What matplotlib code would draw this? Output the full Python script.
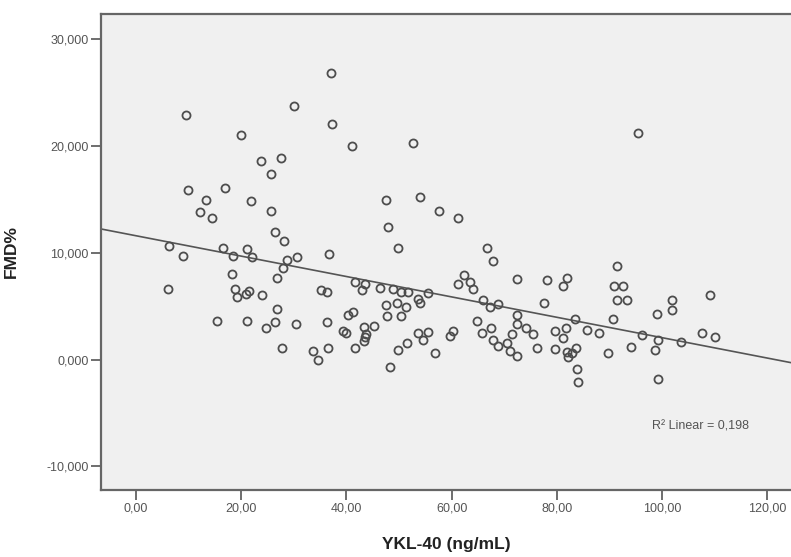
import matplotlib
matplotlib.use('Agg')
import matplotlib.pyplot as plt

# YKL-40 (ng/mL) vs FMD%
ykl40 = [6.3, 8.9, 9.5, 9.9, 13.3, 12.2, 14.5, 16.9, 16.5, 18.4,
         20.0, 21.1, 21.9, 22.1, 23.8, 18.3, 6.1, 18.8, 19.2, 20.9,
         21.5, 24.0, 15.4, 21.1, 24.7, 25.7, 27.6, 25.7, 26.4, 28.1,
         28.7, 30.6, 28.0, 26.8, 30.0, 37.1, 37.3, 41.1, 36.7, 26.8,
         26.4, 30.4, 35.2, 36.3, 36.3, 27.8, 33.7, 34.6, 36.5, 41.6,
         43.5, 43.0, 46.4, 48.9, 50.4, 51.7, 53.6, 54.0, 55.5, 40.3,
         41.3, 39.4, 39.9, 43.3, 45.3, 43.7, 43.5, 43.3, 41.6, 47.5,
         49.6, 51.3, 47.7, 50.4, 48.3, 49.8, 51.5, 53.6, 55.5, 54.6,
         56.8, 47.5, 47.9, 49.8, 52.7, 54.0, 57.6, 61.2, 66.7, 67.9,
         62.4, 72.4, 78.1, 81.9, 81.2, 61.2, 63.5, 64.1, 77.6, 66.0,
         67.3, 68.8, 72.4, 72.4, 64.8, 65.8, 67.5, 60.3, 59.7, 71.5,
         74.1, 75.5, 67.9, 68.8, 70.5, 71.1, 72.4, 76.2, 79.7, 81.7,
         81.2, 79.7, 81.9, 82.9, 83.7, 82.1, 83.5, 85.7, 88.0, 83.8,
         84.0, 89.7, 91.4, 90.9, 92.6, 91.4, 93.4, 90.7, 101.9, 101.9,
         99.1, 109.1, 96.2, 94.1, 99.2, 98.7, 103.6, 107.6, 110.1, 99.2,
         95.4]
fmd = [10.6, 9.7, 22.9, 15.8, 14.9, 13.8, 13.2, 16.0, 10.4, 9.7,
       21.0, 10.3, 14.8, 9.6, 18.6, 8.0, 6.6, 6.6, 5.8, 6.1,
       6.4, 6.0, 3.6, 3.6, 2.9, 17.3, 18.8, 13.9, 11.9, 11.1,
       9.3, 9.6, 8.6, 7.6, 23.7, 26.8, 22.0, 20.0, 9.9, 4.7,
       3.5, 3.3, 6.5, 6.3, 3.5, 1.1, 0.8, 0.0, 1.1, 7.2,
       7.1, 6.5, 6.7, 6.6, 6.3, 6.3, 5.7, 5.3, 6.2, 4.2,
       4.4, 2.7, 2.5, 3.0, 3.1, 2.4, 2.1, 1.7, 1.1, 5.1,
       5.3, 4.9, 4.1, 4.1, -0.7, 0.9, 1.5, 2.5, 2.6, 1.8,
       0.6, 14.9, 12.4, 10.4, 20.2, 15.2, 13.9, 13.2, 10.4, 9.2,
       7.9, 7.5, 7.4, 7.6, 6.9, 7.1, 7.2, 6.6, 5.3, 5.6,
       4.9, 5.2, 4.2, 3.3, 3.6, 2.5, 2.9, 2.7, 2.2, 2.4,
       2.9, 2.4, 1.8, 1.3, 1.5, 0.8, 0.3, 1.1, 2.7, 2.9,
       2.0, 1.0, 0.7, 0.6, 1.1, 0.2, 3.8, 2.8, 2.5, -0.9,
       -2.1, 0.6, 8.7, 6.9, 6.9, 5.6, 5.6, 3.8, 5.6, 4.6,
       4.3, 6.0, 2.3, 1.2, 1.8, 0.9, 1.6, 2.5, 2.1, -1.8,
       21.2]

# fitted line as drawn in the reference
fit_intercept = 11.57
fit_slope = -0.0953
r2_text = 'R\u00b2 Linear = 0,198'

x_ticks = [0, 20, 40, 60, 80, 100, 120]
x_tick_labels = ['0,00', '20,00', '40,00', '60,00', '80,00', '100,00', '120,00']
y_ticks = [-10, 0, 10, 20, 30]
y_tick_labels = ['-10,000', '0,000', '10,000', '20,000', '30,000']

plt.rcParams['font.family'] = ['Liberation Sans', 'DejaVu Sans']

fig = plt.figure(figsize=(7.91, 5.57), dpi=100)
ax = fig.add_axes([101 / 791, 1 - 490 / 557, 690 / 791, 476 / 557])
ax.set_facecolor('#f0f0f0')

xmin, xmax = -6.65, 124.5
ax.set_xlim(xmin, xmax)
ax.set_ylim(-12.2, 32.3)

ax.plot([xmin, xmax], [fit_intercept + fit_slope * xmin, fit_intercept + fit_slope * xmax],
        color='#555555', lw=1.2, zorder=2)
ax.plot(ykl40, fmd, 'o', mfc='none', mec='#4d4d4d', ms=5.8, mew=1.3, zorder=3)

ax.text(98.1, -6.25, r2_text, fontsize=9, color='#555555', ha='left', va='center')

ax.set_xticks(x_ticks)
ax.set_xticklabels(x_tick_labels)
ax.set_yticks(y_ticks)
ax.set_yticklabels(y_tick_labels)
ax.tick_params(axis='both', direction='out', length=7, width=1.2, color='#555555',
               labelsize=9, labelcolor='#555555', pad=2)

for side in ['left', 'top', 'bottom']:
    ax.spines[side].set_color('#666666')
    ax.spines[side].set_linewidth(1.6)
ax.spines['right'].set_visible(False)

ax.set_xlabel('YKL-40 (ng/mL)', fontsize=12.5, fontweight='bold', color='#222222')
ax.set_ylabel('FMD%', fontsize=12.5, fontweight='bold', color='#222222')
ax.xaxis.set_label_coords(0.5, -0.098)
ax.yaxis.set_label_coords(-0.1188, 0.5)

fig.savefig('out.png', dpi=100)
